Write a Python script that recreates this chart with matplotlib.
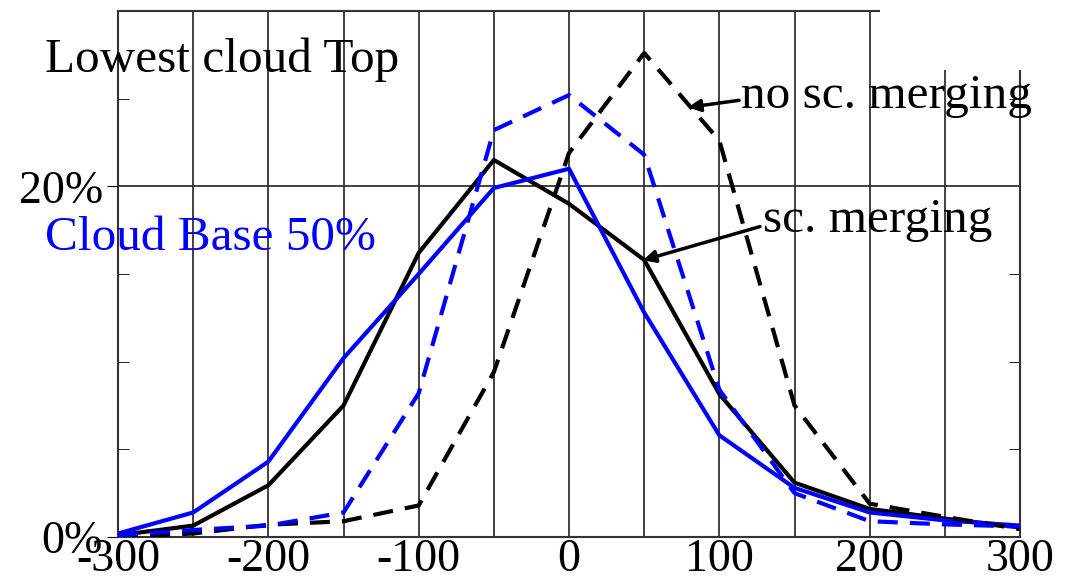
import matplotlib.pyplot as plt
from matplotlib.patches import Rectangle

plt.rcParams['font.family'] = ['Liberation Serif', 'DejaVu Serif']
plt.rcParams['axes.unicode_minus'] = False

# %%
# Distribution data (percent), bins every 50
x = [-300, -250, -200, -150, -100, -50, 0, 50, 100, 150, 200, 250, 300]
top_merge = [0.1, 0.65, 2.95, 7.5, 16.2, 21.5, 19.0, 15.8, 8.15, 3.1, 1.6, 1.05, 0.55]
top_nomerge = [0.0, 0.2, 0.7, 0.9, 1.8, 9.4, 21.9, 27.6, 22.6, 7.5, 1.9, 1.15, 0.45]
base_merge = [0.2, 1.4, 4.3, 10.2, 15.0, 19.9, 21.0, 12.8, 5.8, 2.8, 1.4, 0.95, 0.65]
base_nomerge = [0.1, 0.4, 0.65, 1.4, 8.2, 23.2, 25.2, 21.8, 8.4, 2.5, 0.9, 0.72, 0.6]

xticks = [-300, -200, -100, 0, 100, 200, 300]
yticks = [0, 20]
ytick_labels = ['0%', '20%']

# %%
fig = plt.figure(figsize=(10.78, 5.82), dpi=100)
ax = fig.add_axes([0.1095, 0.0773, 0.8367, 0.904])

dash = (4.8, 2.9)
ax.plot(x, top_merge, color='black', lw=3, zorder=3)
ax.plot(x, base_merge, color='#0000ff', lw=3, zorder=3)
ax.plot(x, top_nomerge, color='black', lw=3, dashes=dash, zorder=3)
ax.plot(x, base_nomerge, color='#0000ff', lw=3, dashes=dash, zorder=3)

ax.set_xlim(-300, 300)
ax.set_ylim(0, 30)
ax.set_xticks(xticks)
ax.set_xticks(range(-250, 300, 100), minor=True)
ax.set_yticks(yticks, ytick_labels)
ax.set_yticks([5, 10, 15, 25], minor=True)

ax.grid(axis='x', which='both', color='#333333', lw=1.3, zorder=1)
ax.grid(axis='y', which='major', color='#333333', lw=1.3, zorder=1)
ax.tick_params(axis='x', which='both', length=0, labelsize=33, pad=1)
ax.tick_params(axis='y', which='major', length=8, direction='out', labelsize=33, pad=3)
ax.tick_params(axis='y', which='minor', length=8, direction='in', right=True)
for s in ax.spines.values():
    s.set_color('#333333')
    s.set_linewidth(1.5)

# %%
ax.text(-348.6, 26.5, 'Lowest cloud Top', fontsize=35.5, va='baseline', clip_on=False)
ax.text(-348.6, 16.35, 'Cloud Base 50%', fontsize=35.5, color='#0000ff',
        va='baseline', clip_on=False)
ax.text(114.4, 24.44, 'no sc. merging', fontsize=35.5, va='baseline', clip_on=False)
ax.text(129, 17.38, 'sc. merging', fontsize=35.5, va='baseline', clip_on=False)

arrow = dict(arrowstyle='-|>', color='black', lw=2.5, mutation_scale=18,
             shrinkA=0, shrinkB=0)
ax.annotate('', xy=(79.2, 24.5), xytext=(113.1, 24.9), arrowprops=arrow)
ax.annotate('', xy=(49.2, 15.78), xytext=(127, 17.7), arrowprops=arrow)

# white patch over the clipped top-right corner
fig.patches.append(Rectangle((0.816, 0.88), 0.2, 0.13, transform=fig.transFigure,
                             facecolor='white', edgecolor='none', zorder=1))

fig.savefig('out.png', dpi=100)
